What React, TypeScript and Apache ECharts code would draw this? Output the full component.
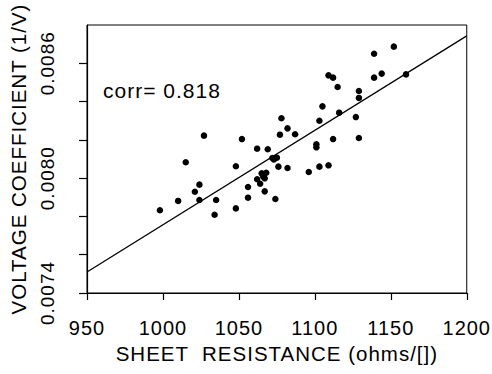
import React, { useEffect, useRef } from "react";
import * as echarts from "echarts";

// Sheet resistance (ohms/[]) of each sample
const resistance = [
  1078, 1082, 1077, 1087, 1027, 1052, 1062, 1069, 1072, 1075, 1073, 1015, 1048,
  1076, 1082, 1065, 1068, 1066, 1062, 1067, 1064, 1024, 1056, 1021, 1067, 1056,
  1074, 1010, 1024, 1035, 998, 1048, 1034, 1152, 1139, 1109, 1112, 1139, 1144,
  1160, 1115, 1129, 1129, 1105, 1116, 1127, 1103, 1101, 1101, 1112, 1129, 1096,
  1103, 1109,
];
// Voltage coefficient (1/V) of each sample
const voltageCoef = [
  0.008313, 0.00826, 0.008227, 0.008229, 0.008222, 0.008204, 0.008154, 0.008151,
  0.008105, 0.008107, 0.008098, 0.008083, 0.008062, 0.00806, 0.008053, 0.008025,
  0.008028, 0.008008, 0.007994, 0.007999, 0.007971, 0.007966, 0.007954, 0.007929,
  0.007931, 0.007898, 0.007891, 0.007881, 0.007886, 0.007886, 0.007832, 0.007842,
  0.007809, 0.008687, 0.00865, 0.008537, 0.008525, 0.008525, 0.008546, 0.008542,
  0.008476, 0.008455, 0.008419, 0.008375, 0.008342, 0.008319, 0.0083, 0.008177,
  0.008161, 0.008204, 0.00821, 0.008032, 0.00806, 0.008067,
];
// Regression line end points
const fitX = [950, 1200];
const fitY = [0.00751, 0.008743];
// Y tick labels that are shown
const yLabelValues = ["0.0074", "0.0080", "0.0086"];
const corrText = "corr= 0.818";

const FONT = "Liberation Sans, Arial, Helvetica, sans-serif";

export default function App() {
  const ref = useRef<HTMLDivElement>(null);
  useEffect(() => {
    const chart = echarts.init(ref.current!, null, { renderer: "svg" });
    chart.setOption({
      animation: false,
      backgroundColor: "#fff",
      textStyle: { fontFamily: FONT, color: "#000" },
      grid: {
        left: 85,
        right: 25,
        top: 25,
        bottom: 81,
        show: true,
        borderColor: "#000",
        borderWidth: 1,
        backgroundColor: "transparent",
      },
      xAxis: {
        type: "value",
        min: 950,
        max: 1200,
        interval: 50,
        name: "SHEET  RESISTANCE (ohms/[])",
        nameLocation: "middle",
        nameGap: 47,
        nameTextStyle: { fontSize: 20.5, color: "#000", fontFamily: FONT },
        axisLine: { show: true, lineStyle: { color: "#000", width: 1.2 } },
        axisTick: { show: true, inside: false, length: 7, lineStyle: { color: "#000", width: 1.2 } },
        axisLabel: {
          fontSize: 20,
          color: "#000",
          margin: 25,
          fontFamily: FONT,
          formatter: (v: number) => String(Math.round(v)),
        },
        splitLine: { show: false },
      },
      yAxis: {
        type: "value",
        min: 0.0074,
        max: 0.0088,
        interval: 0.0002,
        name: "VOLTAGE COEFFICIENT (1/V)",
        nameLocation: "middle",
        nameGap: 58,
        nameTextStyle: { fontSize: 20.5, color: "#000", fontFamily: FONT },
        axisLine: { show: true, lineStyle: { color: "#000", width: 1.2 } },
        axisTick: { show: true, inside: false, length: 8, lineStyle: { color: "#000", width: 1.2 } },
        axisLabel: {
          fontSize: 19,
          color: "#000",
          rotate: 90,
          margin: 30,
          fontFamily: FONT,
          showMinLabel: true,
          showMaxLabel: false,
          formatter: (v: number) => {
            const s = v.toFixed(4);
            return yLabelValues.indexOf(s) >= 0 ? s : "";
          },
        },
        splitLine: { show: false },
      },
      graphic: [
        {
          type: "text",
          left: 103,
          top: 80,
          style: { text: corrText, fontSize: 21, fill: "#000", fontFamily: FONT },
        },
      ],
      series: [
        {
          type: "line",
          data: fitX.map((x, i) => [x, fitY[i]]),
          showSymbol: false,
          symbol: "none",
          lineStyle: { color: "#000", width: 1.3 },
          silent: true,
        },
        {
          type: "scatter",
          data: resistance.map((x, i) => [x, voltageCoef[i]]),
          symbol: "circle",
          symbolSize: 6.5,
          itemStyle: { color: "#000", opacity: 1 },
        },
      ],
    });
    return () => chart.dispose();
  }, []);
  return (
    <div
      ref={ref}
      style={{ position: "fixed", left: 0, top: 0, width: 492, height: 374, letterSpacing: "1px" }}
    />
  );
}
